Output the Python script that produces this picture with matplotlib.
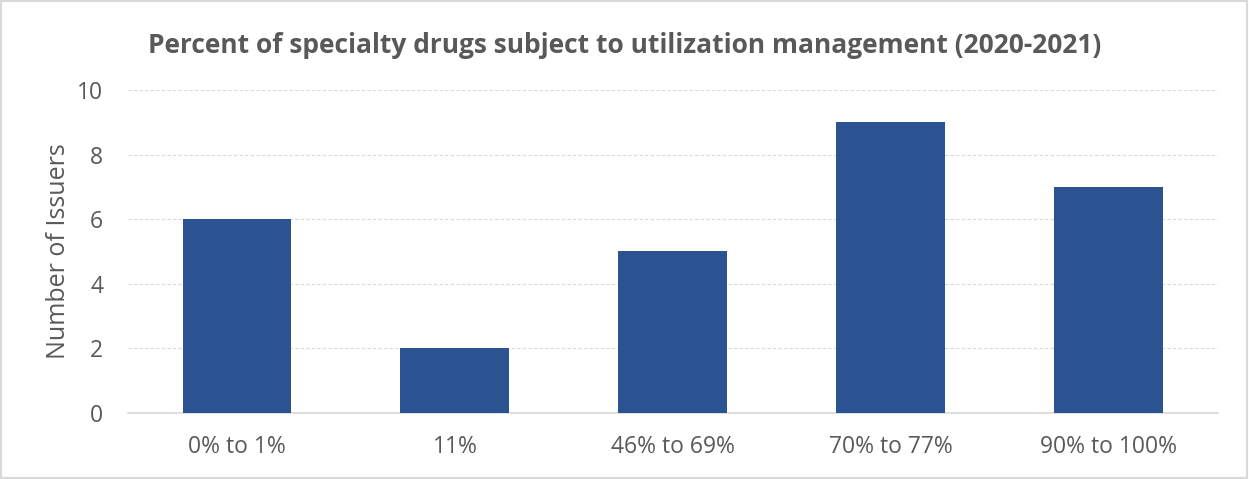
import matplotlib
matplotlib.use("Agg")
import matplotlib.pyplot as plt
from matplotlib.patches import Rectangle

categories = ["0% to 1%", "11%", "46% to 69%", "70% to 77%", "90% to 100%"]
issuers = [6, 2, 5, 9, 7]
yticks = [0, 2, 4, 6, 8, 10]

plt.rcParams["font.family"] = ["Open Sans", "DejaVu Sans"]

fig = plt.figure(figsize=(12.49, 4.79), dpi=100)
ax = fig.add_axes([0.1025, 0.138, 0.8725, 0.674])

x = range(len(categories))
ax.bar(x, issuers, width=0.5, color="#2C5391", zorder=3)

ax.set_xlim(-0.5, len(categories) - 0.5)
ax.set_ylim(0, 10)
ax.set_yticks(yticks)
ax.set_xticks(list(x))
ax.set_xticklabels(categories)
ax.yaxis.grid(True, color="#d9d9d9", linestyle=(0, (3, 2)), linewidth=0.8, zorder=0)
ax.tick_params(axis="both", length=0, labelsize=16.5, labelcolor="#595959")
ax.tick_params(axis="x", pad=16)
ax.tick_params(axis="y", pad=18)

for side in ["top", "right", "left"]:
    ax.spines[side].set_visible(False)
ax.spines["bottom"].set_color("#d9d9d9")
ax.spines["bottom"].set_linewidth(1.2)

ax.set_ylabel("Number of Issuers", fontsize=18, color="#595959", labelpad=4)
fig.text(0.5, 0.905, "Percent of specialty drugs subject to utilization management (2020-2021)",
         ha="center", va="center", fontsize=19, fontweight="bold", color="#595959")

# thin frame around the whole chart
fig.patches.append(Rectangle((0.001, 0.002), 0.997, 0.996, transform=fig.transFigure,
                             fill=False, edgecolor="#d9d9d9", linewidth=1.5))

fig.savefig("out.png", dpi=100)
